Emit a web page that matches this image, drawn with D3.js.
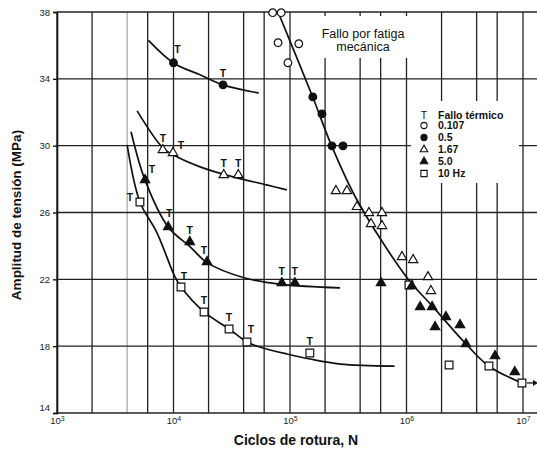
<!DOCTYPE html>
<meta charset="utf-8">
<html>
<script src="https://cdnjs.cloudflare.com/ajax/libs/d3/7.8.5/d3.min.js"></script>
<style>
body { margin: 0; background: #fff; }
svg { font-family: "Liberation Sans", Arial, Helvetica, sans-serif; }
</style>
<body>
<svg id="chart" width="537" height="451"></svg>
<script>

// ---- values: [ciclos N, amplitud MPa] ----
var yTicks = [14, 18, 22, 26, 30, 34, 38];
var xDecades = [1e3, 1e4, 1e5, 1e6, 1e7];
var gridMult = [2, 4, 6];

// fitted curves (thermal failure, one per frequency) + mechanical fatigue line
var fit05 = [[6.1e3, 36.3], [1.0e4, 34.95], [1.69e4, 34.24], [2.66e4, 33.64], [5.4e4, 33.15]];
var fit167 = [[4.87e3, 32.08], [8.1e3, 29.87], [1.03e4, 29.39], [1.69e4, 28.73], [3.24e4, 28.13], [6.3e4, 27.65], [9.4e4, 27.35]];
var fit5 = [[4.32e3, 30.83], [5.69e3, 27.95], [8.98e3, 25.14], [1.39e4, 23.95], [1.94e4, 23.0], [4.1e4, 22.08], [8.5e4, 21.7], [2.69e5, 21.49]];
var fit10 = [[4.0e3, 30.05], [5.15e3, 26.63], [7.2e3, 24.8], [1.03e4, 22.14], [1.16e4, 21.54], [1.83e4, 20.05], [3.0e4, 19.03], [4.27e4, 18.25], [5.5e4, 17.95], [9.4e4, 17.53], [1.48e5, 17.23], [2.7e5, 16.93], [7.9e5, 16.81]];
var fitMech = [[7.9e4, 38.0], [1.57e5, 32.9], [2.29e5, 29.95], [3.76e5, 26.75], [1.01e6, 22.1], [1.69e6, 20.35], [3.24e6, 18.13], [5.1e6, 16.8], [9.8e6, 15.8]];

// thermal failure points (marked "T")
var therm05 = [[1.0e4, 34.96], [2.66e4, 33.64]];
var therm167 = [[8.1e3, 29.75], [9.9e3, 29.57], [2.7e4, 28.25], [3.6e4, 28.25]];
var therm5 = [[5.7e3, 27.95], [9.0e3, 25.14], [1.38e4, 24.24], [1.94e4, 23.04], [8.5e4, 21.78], [1.1e5, 21.78]];
var therm10 = [[5.15e3, 26.63], [1.16e4, 21.54], [1.83e4, 20.05], [3.0e4, 19.03], [4.27e4, 18.25], [1.48e5, 17.59]];

// mechanical fatigue points
var mech0107 = [[7.1e4, 37.96], [8.4e4, 37.96], [7.9e4, 36.16], [1.19e5, 36.1], [9.6e4, 34.96]];
var mech05 = [[1.57e5, 32.92], [1.88e5, 31.9], [2.29e5, 29.99], [2.85e5, 29.99]];
var mech167 = [[2.48e5, 27.29], [3.08e5, 27.29], [3.76e5, 26.34], [4.76e5, 25.98], [6.16e5, 25.98], [4.96e5, 25.32], [6.16e5, 25.2], [9.15e5, 23.34], [1.14e6, 23.16], [1.53e6, 22.14], [1.62e6, 21.31]];
var mech5 = [[6.04e5, 21.78], [1.11e6, 21.6], [1.31e6, 20.35], [1.66e6, 20.35], [1.76e6, 19.15], [2.18e6, 19.75], [2.88e6, 19.27], [3.24e6, 18.13], [5.75e6, 17.41], [8.5e6, 16.46]];
var mech10 = [[1.05e6, 21.66], [2.32e6, 16.87], [5.1e6, 16.81], [9.8e6, 15.8]];

var legendLabels = ["0.107", "0.5", "1.67", "5.0", "10 Hz"];

// ---- chart ----
var svg = d3.select("#chart");
var x = d3.scaleLog().domain([1e3, 1e7]).range([57, 523]);
var y = d3.scaleLinear().domain([14, 38]).range([413, 12]);
var xRight = 537;

svg.append("rect").attr("width", 537).attr("height", 451).attr("fill", "#fff");

// grid
var gridX = [];
xDecades.forEach(function(d) {
	gridX.push(d);
	if (d < 1e7) gridMult.forEach(function(m) { gridX.push(d * m); });
});

var grid = svg.append("g");
grid.selectAll("line.v")
	.data(gridX)
	.enter().append("line")
	.attr("x1", function(d) { return x(d); })
	.attr("x2", function(d) { return x(d); })
	.attr("y1", y(38)).attr("y2", y(14))
	.attr("stroke", function(d) { return d === 4e3 ? "#aaa" : "#222"; })
	.attr("stroke-width", 1.3);

grid.selectAll("line.h")
	.data(yTicks)
	.enter().append("line")
	.attr("x1", x(1e3)).attr("x2", xRight)
	.attr("y1", function(d) { return y(d); })
	.attr("y2", function(d) { return y(d); })
	.attr("stroke", "#222")
	.attr("stroke-width", function(d) { return d === 14 ? 1.6 : 1.4; });

// white patches behind the annotation texts
svg.append("rect").attr("x", 316).attr("y", 16).attr("width", 96).attr("height", 42).attr("fill", "#fff");
svg.append("rect").attr("x", 411).attr("y", 101).attr("width", 108).attr("height", 82).attr("fill", "#fff");

// curves
var line = d3.line()
	.x(function(d) { return x(d[0]); })
	.y(function(d) { return y(d[1]); })
	.curve(d3.curveCatmullRom.alpha(0.5));

[fit05, fit167, fit5, fit10, fitMech].forEach(function(c) {
	svg.append("path")
		.attr("d", line(c))
		.attr("fill", "none")
		.attr("stroke", "#111")
		.attr("stroke-width", 1.7);
});

// markers
var symTypes = {
	circle: d3.symbolCircle,
	square: d3.symbolSquare,
	triangle: d3.symbolTriangle
};
var symSize = {circle: 46, square: 60, triangle: 38};

var series = [
	{key: "10", sym: "square", filled: false, pts: mech10.concat(therm10), therm: therm10},
	{key: "167", sym: "triangle", filled: false, pts: mech167.concat(therm167), therm: therm167},
	{key: "0107", sym: "circle", filled: false, pts: mech0107, therm: []},
	{key: "05", sym: "circle", filled: true, pts: mech05.concat(therm05), therm: therm05},
	{key: "5", sym: "triangle", filled: true, pts: mech5.concat(therm5), therm: therm5}
];

series.forEach(function(s) {
	svg.append("g").selectAll("path")
		.data(s.pts)
		.enter().append("path")
		.attr("transform", function(d) { return "translate(" + x(d[0]) + "," + y(d[1]) + ")"; })
		.attr("d", d3.symbol().type(symTypes[s.sym]).size(symSize[s.sym]))
		.attr("fill", s.filled ? "#111" : "#fff")
		.attr("stroke", "#111")
		.attr("stroke-width", 1.2);
});

// "T" labels over thermal failures (offsets where the figure puts them aside)
var tOff = {
	"05-0": [4, -13], "167-1": [8, -8], "5-0": [7, -11], "5-1": [1, -14],
	"5-3": [-3, -12], "10-0": [-10, -5], "10-1": [3, -11], "10-4": [4, -13]
};
series.forEach(function(s) {
	svg.append("g").selectAll("text")
		.data(s.therm)
		.enter().append("text")
		.attr("x", function(d, i) { return x(d[0]) + (tOff[s.key + "-" + i] || [0, -12])[0]; })
		.attr("y", function(d, i) { return y(d[1]) + (tOff[s.key + "-" + i] || [0, -12])[1]; })
		.attr("dy", "0.35em")
		.attr("text-anchor", "middle")
		.attr("font-size", 10.5)
		.attr("font-weight", "bold")
		.attr("fill", "#111")
		.text("T");
});

// runout arrow at the last 10 Hz point
var ro = mech10[mech10.length - 1];
svg.append("line")
	.attr("x1", x(ro[0]) + 5).attr("x2", x(ro[0]) + 12)
	.attr("y1", y(ro[1])).attr("y2", y(ro[1]))
	.attr("stroke", "#111").attr("stroke-width", 1.3);
svg.append("path")
	.attr("d", "M" + (x(ro[0]) + 11) + "," + (y(ro[1]) - 3) + "l5,3l-5,3z")
	.attr("fill", "#111");

// axes
var yAxis = svg.append("g")
	.attr("transform", "translate(" + x(1e3) + ",0)")
	.call(d3.axisLeft(y).tickValues(yTicks).tickSize(4).tickPadding(3));
yAxis.select(".domain").attr("stroke", "#111").attr("stroke-width", 1.6);
yAxis.selectAll(".tick line").attr("stroke", "#111").attr("stroke-width", 1.4);
yAxis.selectAll("text")
	.attr("font-size", 9.5)
	.attr("font-family", "Liberation Sans, Arial, sans-serif")
	.attr("fill", "#222")
	.attr("dy", function(d) { return d === 14 ? "-0.25em" : "0.32em"; });

var xAxis = svg.append("g")
	.attr("transform", "translate(0," + y(14) + ")")
	.call(d3.axisBottom(x).tickValues(xDecades).tickSize(0).tickPadding(4).tickFormat(""));
xAxis.select(".domain").remove();
xAxis.selectAll(".tick text").each(function(d) {
	var t = d3.select(this)
		.attr("font-size", 9.5)
		.attr("font-family", "Liberation Sans, Arial, sans-serif")
		.attr("fill", "#222");
	t.append("tspan").text("10");
	t.append("tspan").attr("font-size", 7).attr("dy", "-0.35em").text(Math.round(Math.log10(d)));
});

// annotations
var ann = svg.append("text")
	.attr("x", 363).attr("y", 38)
	.attr("text-anchor", "middle")
	.attr("font-size", 12.5)
	.attr("fill", "#111");
ann.append("tspan").attr("x", 363).text("Fallo por fatiga");
ann.append("tspan").attr("x", 363).attr("dy", 13).text("mecánica");

// legend
var legX = 424, legY0 = 115, legStep = 12;
svg.append("text")
	.attr("x", legX).attr("y", legY0).attr("dy", "0.35em")
	.attr("text-anchor", "middle").attr("font-size", 10.5).attr("fill", "#111")
	.text("T");
svg.append("text")
	.attr("x", legX + 14).attr("y", legY0).attr("dy", "0.35em")
	.attr("font-size", 10.5).attr("font-weight", "bold").attr("fill", "#111")
	.text("Fallo térmico");

var legSeries = [series[2], series[3], series[1], series[4], series[0]];
legSeries.forEach(function(s, i) {
	var ly = legY0 + 10.5 + i * legStep;
	svg.append("path")
		.attr("transform", "translate(" + legX + "," + ly + ")")
		.attr("d", d3.symbol().type(symTypes[s.sym]).size(symSize[s.sym] * 0.65))
		.attr("fill", s.filled ? "#111" : "#fff")
		.attr("stroke", "#111")
		.attr("stroke-width", 1.1);
	svg.append("text")
		.attr("x", legX + 14).attr("y", ly).attr("dy", "0.35em")
		.attr("font-size", 10.5).attr("font-weight", "bold").attr("fill", "#111")
		.text(legendLabels[i]);
});

// axis titles
svg.append("text")
	.attr("x", 296).attr("y", 445)
	.attr("text-anchor", "middle")
	.attr("font-size", 14).attr("font-weight", "bold").attr("fill", "#111")
	.text("Ciclos de rotura, N");

svg.append("text")
	.attr("transform", "translate(21,215) rotate(-90)")
	.attr("text-anchor", "middle")
	.attr("font-size", 13.5).attr("font-weight", "bold").attr("fill", "#111")
	.text("Amplitud de tensión (MPa)");

</script>
</body>
</html>
